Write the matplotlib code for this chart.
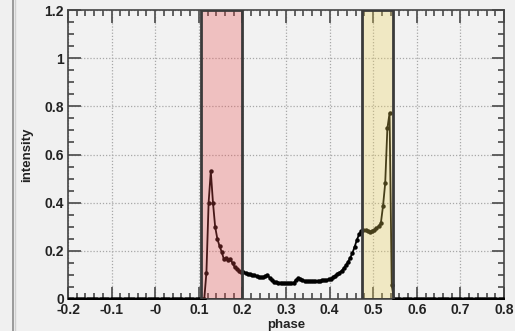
import numpy as np
import matplotlib
matplotlib.use("Agg")
import matplotlib.pyplot as plt
from matplotlib.ticker import MultipleLocator, FixedLocator, FixedFormatter

# ---- data -------------------------------------------------------------
BIN = 0.005  # phase bin width; values below are bin centres

# before the pulse: flat zero intensity
phase_pre = np.arange(-0.1975, 0.1126, BIN)
intensity_pre = [0.0] * len(phase_pre)

# pulse region, first bin centred at 0.1175
pulse_start = 0.1175
intensity_pulse = [
    0.110, 0.400, 0.530, 0.400, 0.300, 0.250, 0.220, 0.196, 0.165, 0.170,
    0.162, 0.166, 0.148, 0.132, 0.124, 0.118, 0.114, 0.111, 0.108, 0.105,
    0.103, 0.100, 0.098, 0.095, 0.093, 0.091, 0.090, 0.094, 0.100, 0.088,
    0.078, 0.072, 0.070, 0.068, 0.068, 0.067, 0.067, 0.067, 0.066, 0.067,
    0.068, 0.078, 0.086, 0.081, 0.078, 0.076, 0.074, 0.073, 0.074, 0.073,
    0.074, 0.075, 0.076, 0.077, 0.078, 0.079, 0.081, 0.085, 0.090, 0.096,
    0.104, 0.110, 0.117, 0.128, 0.140, 0.155, 0.172, 0.192, 0.217, 0.245,
    0.268, 0.281, 0.287, 0.287, 0.283, 0.280, 0.282, 0.287, 0.294, 0.302,
    0.314, 0.386, 0.480, 0.709, 0.771, 0.058,
]
phase_pulse = pulse_start + BIN * np.arange(len(intensity_pulse))

# after the pulse: flat zero intensity
phase_post = np.arange(phase_pulse[-1] + BIN, 0.8001, BIN)
intensity_post = [0.0] * len(phase_post)

phase = np.concatenate([phase_pre, phase_pulse, phase_post])
intensity = np.concatenate([intensity_pre, intensity_pulse, intensity_post])

# highlighted phase windows
window_p1 = (0.105, 0.200)
window_p2 = (0.475, 0.545)

x_ticks = [-0.2, -0.1, 0.0, 0.1, 0.2, 0.3, 0.4, 0.5, 0.6, 0.7, 0.8]
x_ticklabels = ["-0.2", "-0.1", "-0", "0.1", "0.2", "0.3", "0.4", "0.5", "0.6", "0.7", "0.8"]
y_ticks = [0.0, 0.2, 0.4, 0.6, 0.8, 1.0, 1.2]
y_ticklabels = ["0", "0.2", "0.4", "0.6", "0.8", "1", "1.2"]

# ---- figure -----------------------------------------------------------
plt.rcParams["font.family"] = ["Liberation Sans", "DejaVu Sans"]
bg = "#f0f0f0"
fig = plt.figure(figsize=(5.15, 3.31), dpi=100, facecolor=bg)
ax = fig.add_axes([68 / 515, 1 - 299 / 331, (504 - 68) / 515, (299 - 10) / 331])
ax.set_facecolor("#f2f2f2")

# window frame on the left edge
fig.add_artist(plt.Line2D([12.5 / 515, 12.5 / 515], [0, 1], color="#9a9a9a", lw=1.4,
                          transform=fig.transFigure))
fig.add_artist(plt.Line2D([14.5 / 515, 14.5 / 515], [0, 1], color="#d0d0d0", lw=1.0,
                          transform=fig.transFigure))

ax.plot(phase, intensity, color="black", lw=1.3, marker="o", ms=2.2, zorder=3)

ax.axvspan(*window_p1, facecolor=(0.92, 0.30, 0.30, 0.30), edgecolor="#3a3a3a",
           lw=2.0, zorder=4)
ax.axvspan(*window_p2, facecolor=(0.93, 0.82, 0.35, 0.30), edgecolor="#3a3a3a",
           lw=2.0, zorder=4)

ax.set_xlim(-0.2, 0.8)
ax.set_ylim(0, 1.2)

ax.xaxis.set_major_locator(FixedLocator(x_ticks))
ax.xaxis.set_major_formatter(FixedFormatter(x_ticklabels))
ax.xaxis.set_minor_locator(MultipleLocator(0.02))
ax.yaxis.set_major_locator(FixedLocator(y_ticks))
ax.yaxis.set_major_formatter(FixedFormatter(y_ticklabels))
ax.yaxis.set_minor_locator(MultipleLocator(0.05))

ax.grid(True, which="major", color="#a8a8a8", linestyle=(0, (1, 1.5)), lw=0.9, zorder=1)

ax.tick_params(which="both", direction="in", top=True, right=True, color="#555555",
               width=1.3)
ax.tick_params(which="major", length=9, labelsize=10, pad=3, labelcolor="#222222")
ax.tick_params(which="minor", length=4.5)
for lab in ax.get_xticklabels() + ax.get_yticklabels():
    lab.set_fontweight("bold")

for s in ax.spines.values():
    s.set_color("#444444")
    s.set_linewidth(1.2)

ax.set_xlabel("phase", fontsize=9.5, fontweight="bold", color="#222222", labelpad=1)
ax.set_ylabel("intensity", fontsize=9.5, fontweight="bold", color="#222222", labelpad=8)

fig.savefig("out.png", dpi=100, facecolor=bg)
